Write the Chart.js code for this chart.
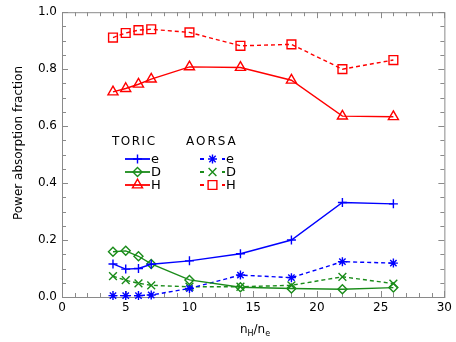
<!DOCTYPE html>
<html>
<head>
<meta charset="utf-8">
<script src="https://cdn.jsdelivr.net/npm/chart.js@4.4.0/dist/chart.umd.min.js"></script>
<style>
    html, body { margin: 0; padding: 0; background: #fff; }
    #wrap { width: 456px; height: 342px; }
</style>
</head>
<body>
<div id="wrap"><canvas id="power_chart"></canvas></div>
<script>
// density ratio nH/ne
const nRatio = [4, 5, 6, 7, 10, 14, 18, 22, 26];

// TORIC
const toricE = [0.116, 0.098, 0.100, 0.115, 0.127, 0.152, 0.200, 0.332, 0.327];
const toricD = [0.159, 0.162, 0.143, 0.116, 0.060, 0.034, 0.030, 0.027, 0.033];
const toricH = [0.720, 0.732, 0.747, 0.765, 0.808, 0.806, 0.761, 0.635, 0.633];

// AORSA
const aorsaE = [0.005, 0.005, 0.005, 0.007, 0.030, 0.077, 0.068, 0.124, 0.119];
const aorsaD = [0.073, 0.059, 0.048, 0.041, 0.036, 0.036, 0.041, 0.071, 0.047];
const aorsaH = [0.911, 0.927, 0.937, 0.940, 0.929, 0.882, 0.887, 0.800, 0.832];

const xTicks = [0, 5, 10, 15, 20, 25, 30];
const yTicks = [0.0, 0.2, 0.4, 0.6, 0.8, 1.0];

const BLUE = "#0000ff";
const GREEN = "#1a8c1a";
const RED = "#ff0000";
const AXIS = "#8a8a8a";
const FONT = "'DejaVu Sans', sans-serif";

function pts(ys) {
    return nRatio.map(function (x, i) { return { x: x, y: ys[i] }; });
}

function makeSet(label, ys, color, style, radius, dashed) {
    return {
        label: label,
        data: pts(ys),
        borderColor: color,
        backgroundColor: "rgba(0,0,0,0)",
        borderWidth: 1.4,
        borderDash: dashed ? [4, 3] : [],
        pointStyle: style,
        pointRadius: radius,
        pointBorderColor: color,
        pointBackgroundColor: "rgba(0,0,0,0)",
        pointBorderWidth: 1.4,
        showLine: true,
        tension: 0,
        clip: false,
    };
}

const datasets = [
    makeSet("e", toricE, BLUE, "cross", 4.5, false),
    makeSet("D", toricD, GREEN, "rectRot", 4.5, false),
    makeSet("H", toricH, RED, "triangle", 5.8, false),
    makeSet("e", aorsaE, BLUE, "star", 4.5, true),
    makeSet("D", aorsaD, GREEN, "crossRot", 5.5, true),
    makeSet("H", aorsaH, RED, "rect", 6.2, true),
];

// box + inward ticks on all four sides, IDL style
const boxPlugin = {
    id: "box",
    beforeDatasetsDraw: function (chart) {
        const ctx = chart.ctx;
        const a = chart.chartArea;
        const sx = chart.scales.x;
        const sy = chart.scales.y;
        ctx.save();
        ctx.strokeStyle = AXIS;
        ctx.lineWidth = 1;
        ctx.strokeRect(a.left + 0.5, a.top + 0.5, a.right - a.left, a.bottom - a.top);
        ctx.beginPath();
        for (let i = 0; i <= 30; i++) {
            const px = Math.round(sx.getPixelForValue(i)) + 0.5;
            const len = i % 5 === 0 ? 6 : 4;
            ctx.moveTo(px, a.bottom);
            ctx.lineTo(px, a.bottom - len);
            ctx.moveTo(px, a.top);
            ctx.lineTo(px, a.top + len);
        }
        for (let j = 0; j <= 20; j++) {
            const py = Math.round(sy.getPixelForValue(j * 0.05)) + 0.5;
            const len = j % 4 === 0 ? 6 : 4;
            ctx.moveTo(a.left, py);
            ctx.lineTo(a.left + len, py);
            ctx.moveTo(a.right, py);
            ctx.lineTo(a.right - len, py);
        }
        ctx.stroke();
        ctx.restore();
    },
    afterDraw: function (chart) {
        const ctx = chart.ctx;
        ctx.save();
        ctx.fillStyle = "#000";

        // y title
        ctx.font = "12px " + FONT;
        ctx.textAlign = "center";
        ctx.textBaseline = "middle";
        ctx.translate(19, 143);
        ctx.rotate(-Math.PI / 2);
        ctx.fillText("Power absorption fraction", 0, 0);
        ctx.setTransform(1, 0, 0, 1, 0, 0);

        // x title n_H / n_e
        const parts = [["n", 12, 0], ["H", 8, 3], ["/n", 12, 0], ["e", 8, 3]];
        let w = 0;
        parts.forEach(function (p) {
            ctx.font = p[1] + "px " + FONT;
            w += ctx.measureText(p[0]).width;
        });
        let x = 255 - w / 2;
        ctx.textAlign = "left";
        ctx.textBaseline = "alphabetic";
        parts.forEach(function (p) {
            ctx.font = p[1] + "px " + FONT;
            ctx.fillText(p[0], x, 333 + p[2]);
            x += ctx.measureText(p[0]).width;
        });

        // legend
        const cols = [
            { title: "TORIC", tx: 112, x0: 125, x1: 150, spacing: "1.5px" },
            { title: "AORSA", tx: 186, x0: 200, x1: 225, spacing: "2px" },
        ];
        const rows = [159, 172, 185];
        cols.forEach(function (c, ci) {
            ctx.fillStyle = "#000";
            ctx.font = "12px " + FONT;
            ctx.letterSpacing = c.spacing;
            ctx.textAlign = "left";
            ctx.textBaseline = "middle";
            ctx.fillText(c.title, c.tx, 142);
            ctx.letterSpacing = "0px";
            for (let r = 0; r < 3; r++) {
                const ds = chart.data.datasets[ci * 3 + r];
                const y = rows[r];
                const mid = (c.x0 + c.x1) / 2;
                ctx.strokeStyle = ds.borderColor;
                ctx.lineWidth = 1.8;
                ctx.setLineDash([]);
                ctx.beginPath();
                if (ci === 0) {
                    ctx.moveTo(c.x0, y);
                    ctx.lineTo(c.x1, y);
                } else {
                    ctx.moveTo(c.x0, y);
                    ctx.lineTo(c.x0 + 4, y);
                    ctx.moveTo(c.x1 - 3, y);
                    ctx.lineTo(c.x1, y);
                }
                ctx.stroke();
                ctx.lineWidth = 1.4;
                ctx.fillStyle = "rgba(0,0,0,0)";
                Chart.helpers.drawPoint(ctx, {
                    pointStyle: ds.pointStyle,
                    radius: ds.pointRadius,
                    rotation: 0,
                    borderWidth: 1.4,
                }, mid, y);
                ctx.fillStyle = "#000";
                ctx.font = "13px " + FONT;
                ctx.fillText(ds.label, c.x1 + 1, y + 1);
            }
        });
        ctx.restore();
    },
};

new Chart(document.getElementById("power_chart"), {
    type: "scatter",
    data: { datasets: datasets },
    options: {
        responsive: true,
        maintainAspectRatio: false,
        animation: false,
        layout: { padding: { top: 12, right: 6, left: 0, bottom: 0 } },
        plugins: {
            legend: { display: false },
            tooltip: { enabled: false },
        },
        scales: {
            x: {
                type: "linear",
                min: 0,
                max: 30,
                afterBuildTicks: function (scale) {
                    scale.ticks = xTicks.map(function (v) { return { value: v }; });
                },
                ticks: {
                    color: "#000",
                    font: { family: FONT, size: 12 },
                    padding: 4,
                    maxRotation: 0,
                    callback: function (v) { return String(v); },
                },
                grid: { display: false, drawTicks: false },
                border: { display: false },
                afterFit: function (scale) { scale.height = 45; },
            },
            y: {
                type: "linear",
                min: 0,
                max: 1,
                afterBuildTicks: function (scale) {
                    scale.ticks = yTicks.map(function (v) { return { value: v }; });
                },
                ticks: {
                    color: "#000",
                    font: { family: FONT, size: 12 },
                    padding: 5,
                    callback: function (v) { return Number(v).toFixed(1); },
                },
                grid: { display: false, drawTicks: false },
                border: { display: false },
                afterFit: function (scale) { scale.width = 62; },
            },
        },
    },
    plugins: [boxPlugin],
});
</script>
</body>
</html>
